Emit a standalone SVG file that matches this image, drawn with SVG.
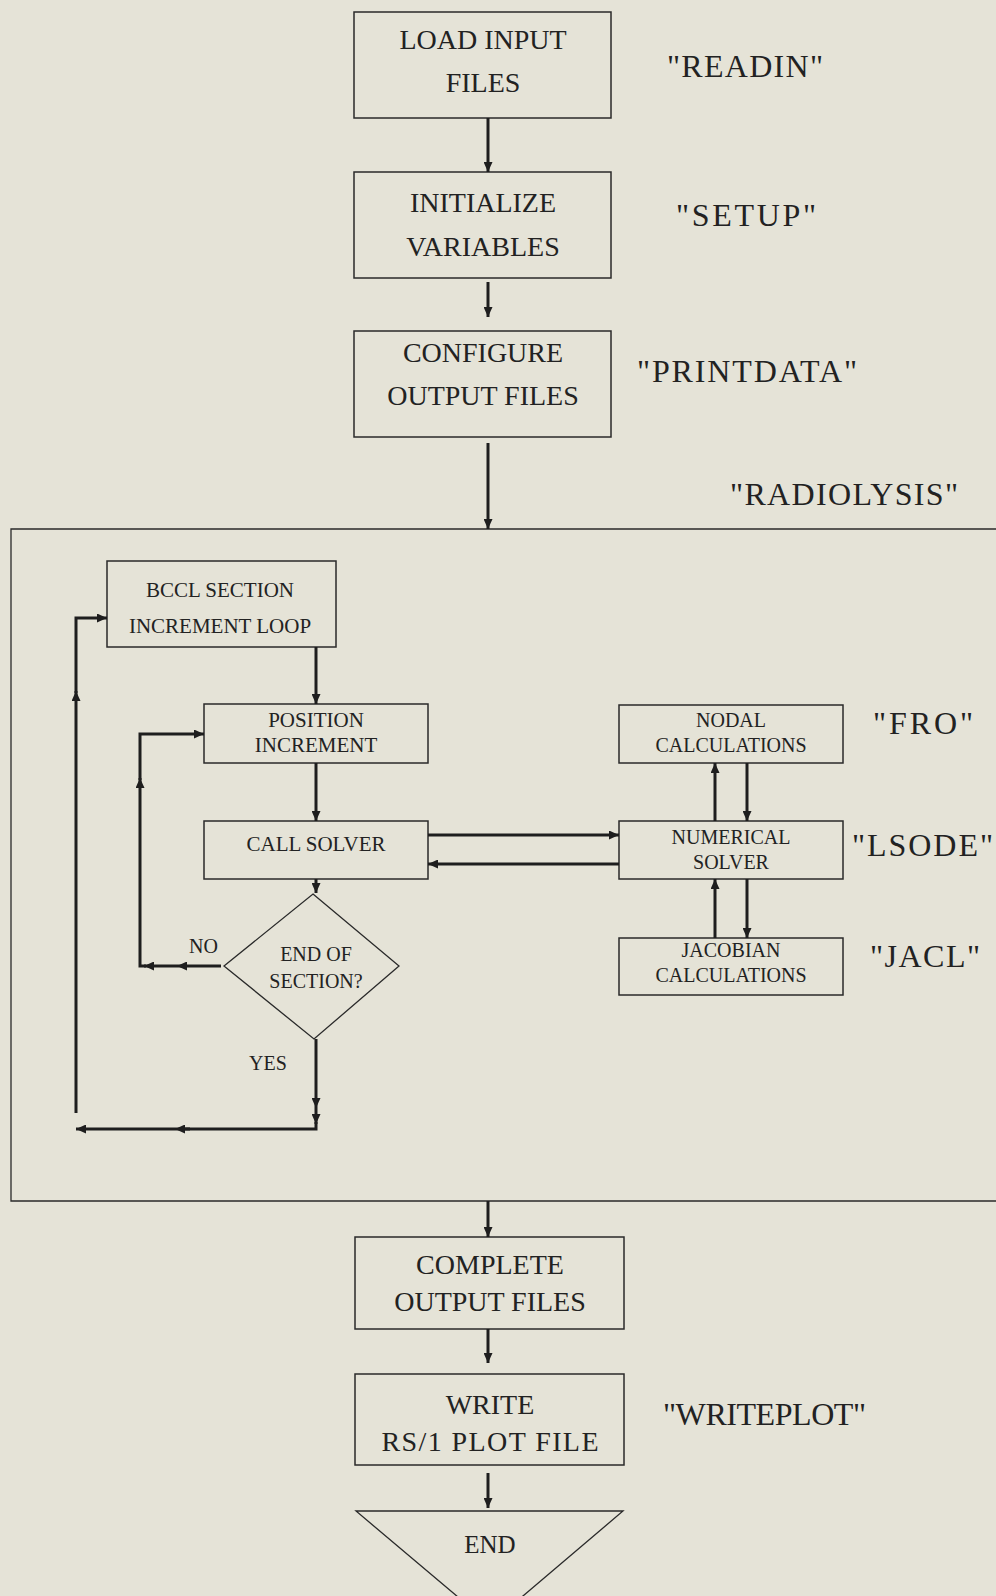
<svg xmlns="http://www.w3.org/2000/svg" width="996" height="1596" viewBox="0 0 996 1596">
<defs>
<marker id="ah" markerUnits="userSpaceOnUse" markerWidth="11" markerHeight="9" refX="10" refY="4.5" orient="auto">
<path d="M0,0 L10,4.5 L0,9 z" fill="#1e1e1e"/>
</marker>
</defs>
<style>
.bg{fill:#e5e3d7}
.box{fill:none;stroke:#2a2a2a;stroke-width:1.5}
.thin{fill:none;stroke:#2a2a2a;stroke-width:1.3}
.c{fill:none;stroke:#1e1e1e;stroke-width:3}
.a{fill:none;stroke:#1e1e1e;stroke-width:3;marker-end:url(#ah)}
text{font-family:"Liberation Serif","Times New Roman",serif;fill:#222;text-anchor:middle}
.t28{font-size:28px}
.t21{font-size:21px}
.t20{font-size:20px}
.lab{font-size:32px;text-anchor:start}
</style>
<rect class="bg" x="0" y="0" width="996" height="1596"/>

<g id="container">
<path class="thin" d="M998,529 H11 V1201 H998"/>
</g>

<g id="load">
<rect class="box" x="354" y="12" width="257" height="106"/>
<text class="t28" x="483" y="49">LOAD INPUT</text>
<text class="t28" x="483" y="92">FILES</text>
</g>
<g id="setup">
<rect class="box" x="354" y="172" width="257" height="106"/>
<text class="t28" x="483" y="212">INITIALIZE</text>
<text class="t28" x="483" y="256">VARIABLES</text>
</g>
<g id="config">
<rect class="box" x="354" y="331" width="257" height="106"/>
<text class="t28" x="483" y="362">CONFIGURE</text>
<text class="t28" x="483" y="405">OUTPUT FILES</text>
</g>

<g id="labels">
<text class="lab" x="667" y="77" textLength="156" lengthAdjust="spacing">"READIN"</text>
<text class="lab" x="676" y="226" textLength="140" lengthAdjust="spacing">"SETUP"</text>
<text class="lab" x="637" y="382" textLength="220" lengthAdjust="spacing">"PRINTDATA"</text>
<text class="lab" x="730" y="505" textLength="228" lengthAdjust="spacing">"RADIOLYSIS"</text>
<text class="lab" x="873" y="734" textLength="100" lengthAdjust="spacing">"FRO"</text>
<text class="lab" x="852" y="856" textLength="141" lengthAdjust="spacing">"LSODE"</text>
<text class="lab" x="870" y="967" textLength="110" lengthAdjust="spacing">"JACL"</text>
<text class="lab" x="663" y="1425" textLength="203" lengthAdjust="spacing">"WRITEPLOT"</text>
</g>

<g id="bccl">
<rect class="box" x="107" y="561" width="229" height="86"/>
<text class="t21" x="220" y="597">BCCL SECTION</text>
<text class="t21" x="220" y="633">INCREMENT LOOP</text>
</g>
<g id="position">
<rect class="box" x="204" y="704" width="224" height="59"/>
<text class="t21" x="316" y="727">POSITION</text>
<text class="t21" x="316" y="752">INCREMENT</text>
</g>
<g id="callsolver">
<rect class="box" x="204" y="821" width="224" height="58"/>
<text class="t21" x="316" y="851">CALL SOLVER</text>
</g>
<g id="decision">
<path class="thin" d="M313,894 L399,966 L314,1039 L224,966 Z"/>
<text class="t20" x="316" y="961">END OF</text>
<text class="t20" x="316" y="988">SECTION?</text>
</g>
<g id="nodal">
<rect class="box" x="619" y="705" width="224" height="58"/>
<text class="t20" x="731" y="727">NODAL</text>
<text class="t20" x="731" y="752">CALCULATIONS</text>
</g>
<g id="numerical">
<rect class="box" x="619" y="821" width="224" height="58"/>
<text class="t20" x="731" y="844">NUMERICAL</text>
<text class="t20" x="731" y="869">SOLVER</text>
</g>
<g id="jacobian">
<rect class="box" x="619" y="938" width="224" height="57"/>
<text class="t20" x="731" y="957">JACOBIAN</text>
<text class="t20" x="731" y="982">CALCULATIONS</text>
</g>

<g id="complete">
<rect class="box" x="355" y="1237" width="269" height="92"/>
<text class="t28" x="490" y="1274">COMPLETE</text>
<text class="t28" x="490" y="1311">OUTPUT FILES</text>
</g>
<g id="writeplot">
<rect class="box" x="355" y="1374" width="269" height="91"/>
<text class="t28" x="490" y="1414">WRITE</text>
<text class="t28" x="490" y="1451" textLength="217" lengthAdjust="spacing">RS/1 PLOT FILE</text>
</g>
<g id="end">
<path class="thin" d="M356,1511 H623 L490,1624 Z"/>
<text style="font-size:25px" x="490" y="1553">END</text>
</g>

<g id="edge-labels">
<text class="t20" x="218" y="953" style="text-anchor:end">NO</text>
<text class="t20" x="268" y="1070">YES</text>
</g>

<g id="connectors">
<line class="a" x1="488" y1="118" x2="488" y2="172"/>
<line class="a" x1="488" y1="282" x2="488" y2="317"/>
<line class="a" x1="488" y1="443" x2="488" y2="529"/>
<line class="a" x1="488" y1="1201" x2="488" y2="1237"/>
<line class="a" x1="488" y1="1329" x2="488" y2="1363"/>
<line class="a" x1="488" y1="1473" x2="488" y2="1508"/>

<line class="a" x1="316" y1="647" x2="316" y2="704"/>
<line class="a" x1="316" y1="763" x2="316" y2="821"/>
<line class="a" x1="316" y1="879" x2="316" y2="893"/>

<line class="a" x1="428" y1="835" x2="619" y2="835"/>
<line class="a" x1="619" y1="864" x2="428" y2="864"/>

<line class="a" x1="715" y1="821" x2="715" y2="763"/>
<line class="a" x1="747" y1="763" x2="747" y2="821"/>
<line class="a" x1="715" y1="938" x2="715" y2="879"/>
<line class="a" x1="747" y1="879" x2="747" y2="938"/>

<line class="a" x1="221" y1="966" x2="177" y2="966"/>
<line class="a" x1="177" y1="966" x2="144" y2="966"/>
<path class="c" d="M146,966 H140 V785"/>
<line class="a" x1="140" y1="785" x2="140" y2="778"/>
<path class="c" d="M140,780 V734 H196"/>
<line class="a" x1="196" y1="734" x2="204" y2="734"/>

<line class="a" x1="316" y1="1039" x2="316" y2="1108"/>
<line class="a" x1="316" y1="1108" x2="316" y2="1124"/>
<path class="c" d="M316,1122 V1129 H180"/>
<line class="a" x1="190" y1="1129" x2="175" y2="1129"/>
<line class="a" x1="175" y1="1129" x2="76" y2="1129"/>

<path class="c" d="M76,1113 V700"/>
<line class="a" x1="76" y1="700" x2="76" y2="691"/>
<path class="c" d="M76,693 V618 H100"/>
<line class="a" x1="100" y1="618" x2="107" y2="618"/>
</g>
</svg>
